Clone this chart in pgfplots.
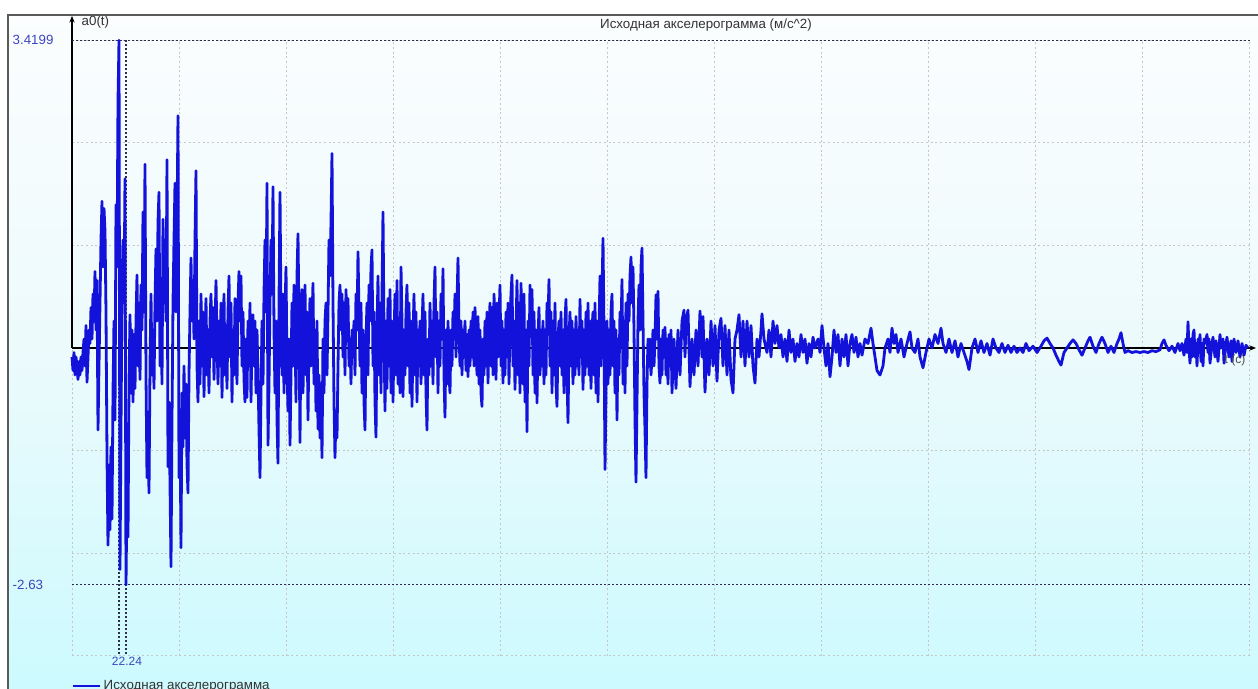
\documentclass[border=0pt]{standalone}
\usepackage{pgfplots}
\pgfplotsset{compat=1.18}
\usetikzlibrary{arrows.meta}
\usepackage{fontspec}
\setmainfont{Liberation Sans}
\definecolor{sigblue}{RGB}{18,18,218}
\definecolor{lblblue}{RGB}{60,70,190}
\definecolor{bgtop}{RGB}{251,253,254}
\definecolor{bgmid}{RGB}{236,250,252}
\definecolor{bgbot}{RGB}{204,250,254}
\definecolor{framec}{RGB}{90,90,90}
\definecolor{markc}{RGB}{45,45,80}
\begin{document}
\begin{tikzpicture}
\useasboundingbox (0,0) rectangle (943.5pt,516.75pt);
\fill[top color=bgtop, bottom color=bgbot, middle color=bgmid] (6pt,0) rectangle (943.5pt,505.5pt);
\begin{axis}[
  at={(54pt,24.9pt)}, anchor=south west,
  scale only axis, width=883.5pt, height=461.7pt,
  xmin=0, xmax=1178, ymin=-3.42, ymax=3.42,
  axis line style={draw=none},
  xtick={0,107,214,321,428,535,642,749,856,963,1070,1177},
  ytick={-3.42,-2.28,-1.14,0,1.14,2.28,3.42},
  xticklabel={\mbox{}}, yticklabel={\mbox{}},
  major tick length=0pt,
  grid=major,
  grid style={gray!45, line width=0.7pt, dash pattern=on 1.5pt off 2pt},
  clip=false,
  legend style={at={(0.0,-0.049)}, anchor=west, draw=none, fill=none, font=\fontsize{10}{11}\selectfont, text=black!80, inner sep=0pt},
  legend image code/.code={\draw[sigblue, line width=1.6pt] (0pt,0pt) -- (20pt,0pt);},
]
\draw[black, line width=2.2pt] (axis cs:0,0) -- (axis cs:1176,0);
\draw[black, line width=0.8pt, -{Stealth[length=5pt,width=4pt]}] (axis cs:1170,0) -- (axis cs:1184,0);
\draw[black, line width=1pt, -{Stealth[length=5pt,width=4pt]}] (axis cs:0,0) -- (axis cs:0,3.69);
\addplot[forget plot, markc, line width=1pt, dash pattern=on 1.5pt off 1.5pt] coordinates {(0,3.4199) (1178,3.4199)};
\addplot[forget plot, markc, line width=1pt, dash pattern=on 1.5pt off 1.5pt] coordinates {(0,-2.63) (1178,-2.63)};
\addplot[forget plot, markc, line width=1pt, dash pattern=on 1.5pt off 1.5pt] coordinates {(47,3.4199) (47,-3.41)};
\addplot[forget plot, markc, line width=1pt, dash pattern=on 1.5pt off 1.5pt] coordinates {(54,3.4199) (54,-3.41)};
\addplot[sigblue, line width=2.1pt, line join=round] coordinates {
(0,-0.1)(1,-0.25)(2,-0.05)(3,-0.3)(4,-0.1)(5,-0.2)(6,-0.35)(7,-0.15)(8,-0.3)(9,-0.1)(10,-0.25)(11,-0.05)(12,0.1)(13,-0.2)(14,0.25)(15,-0.38)(16,-0.1)(17,0.2)(18,0.05)(19,0.45)(20,0.1)(21,0.6)(22,0.3)(23,0.85)(24,0.2)(25,0.75)(26,-0.91)(27,-0.2)(28,0.5)(29,1.2)(30,1.63)(31,0.9)(32,1.55)(33,1.3)(34,0.4)(35,-1.2)(36,-2.19)(37,-1.3)(38,-2.02)(39,-1.1)(40,-1.9)(41,-0.5)(42,0.3)(43,-0.8)(44,1.59)(45,0.9)(46,2.74)(47,3.4199)(48,-2.46)(49,-0.9)(50,0.6)(51,1.2)(52,0.5)(53,1.88)(54,-2.63)
(55,-1.6)(56,-2.1)(57,-0.4)(58,0.37)(59,-0.5)(60,0.2)(61,-0.6)(62,0.15)(63,-0.45)(64,0.3)(65,0.81)(66,-0.2)(67,0.5)(68,-0.35)(69,0.7)(70,0.2)(71,1.51)(72,0.4)(73,2.04)(74,-0.3)(75,-1.44)(76,-0.9)(77,-1.61)(78,-0.2)(79,0.6)(80,-0.3)(81,0.2)(82,-0.45)(83,0.5)(84,1.1)(85,0.3)(86,1.4)(87,1.73)(88,-0.2)(89,0.6)(90,-0.4)(91,1.43)(92,0.5)(93,1.2)(94,0.3)(95,2.09)(96,-1.32)(97,-0.6)(98,-1.5)(99,-2.43)(100,-0.8)(101,0.5)(102,1.2)(103,1.83)(104,0.4)(105,1.4)(106,2.58)(107,-1.44)(108,-0.8)(109,-2.22)(110,-0.5)(111,-1.1)(112,-0.2)(113,-1.0)(114,-0.4)(115,-1.3)(116,-1.61)(117,-0.3)(118,0.4)(119,1.0)(120,0.3)(121,0.75)(122,0.1)(123,1.2)(124,1.97)(125,-0.2)(126,-0.6)(127,0.3)(128,-0.4)
(129,0.6)(130,-0.2)(131,0.4)(132,-0.54)(133,0.1)(134,0.55)(135,-0.3)(136,0.2)(137,-0.5)(138,0.3)(139,0.6)(140,-0.1)(141,0.45)(142,-0.35)(143,0.2)(144,0.75)(145,0.1)(146,-0.4)(147,0.3)(148,-0.2)(149,0.5)(150,-0.55)(151,0.1)(152,0.6)(153,-0.3)(154,0.25)(155,-0.45)(156,0.4)(157,0.8)(158,-0.1)(159,0.5)(160,-0.6)(161,0.2)(162,-0.3)(163,0.55)(164,0.1)(165,-0.4)(166,0.5)(167,0.85)(168,0.3)(169,0.8)(170,-0.2)(171,0.4)(172,-0.35)(173,-0.6)(174,0.1)(175,-0.55)(176,0.3)(177,-0.2)(178,0.5)(179,-0.6)(180,0.1)(181,0.37)(182,-0.2)(183,0.3)(184,-0.5)(185,0.2)(186,-0.3)(187,-0.9)(188,-1.44)(189,-0.5)(190,0.3)(191,-0.4)(192,0.6)(193,1.2)(194,0.4)(195,1.83)(196,-1.08)(197,-0.4)(198,0.5)(199,1.2)(200,0.6)(201,1.79)(202,0.2)(203,-0.5)(204,0.3)(205,-0.8)(206,-1.28)(207,0.5)(208,1.73)(209,0.4)(210,-0.3)(211,0.6)(212,-0.5)(213,0.4)(214,0.9)(215,-0.2)(216,-0.7)(217,0.1)(218,-1.08)(219,-0.3)(220,0.5)(221,-0.2)(222,0.7)(223,0.2)(224,-0.6)(225,0.8)(226,1.27)(227,0.3)(228,-1.05)
(229,0.3)(230,0.65)(231,-0.5)(232,0.2)(233,0.7)(234,-0.3)(235,0.4)(236,-0.8)(237,0.1)(238,0.55)(239,-0.2)(240,0.3)(241,0.72)(242,-0.4)(243,0.2)(244,-0.7)(245,0.3)(246,-0.9)(247,-0.3)(248,-1.0)(249,-0.4)(250,-1.22)(251,0.1)(252,-0.5)(253,0.3)(254,0.5)(255,-0.3)(256,0.4)(257,1.2)(258,0.8)(259,1.4)(260,2.16)(261,0.5)(262,-0.6)(263,-1.22)(264,-0.7)(265,-1.0)(266,-0.2)(267,0.5)(268,0.7)(269,0.2)(270,0.6)(271,-0.1)(272,0.5)(273,-0.3)(274,0.65)(275,0.1)(276,0.55)(277,-0.2)(278,0.1)(279,-0.4)(280,0.2)(281,-0.1)(282,0.3)(283,-0.3)(284,0.6)(285,0.2)(286,1.07)(287,0.4)(288,-0.2)(289,0.5)(290,-0.5)(291,0.2)(292,-0.6)(293,-0.91)(294,0.1)(295,0.5)(296,-0.3)(297,0.7)(298,0.3)(299,0.9)(300,1.09)(301,-0.2)(302,0.4)(303,-0.6)(304,-0.99)(305,0.2)(306,0.8)(307,-0.3)(308,0.5)(309,-0.5)(310,0.6)(311,1.51)(312,0.2)(313,-0.7)(314,0.3)(315,-0.45)(316,0.55)(317,-0.2)(318,0.65)(319,-0.5)(320,0.3)(321,-0.6)(322,0.1)(323,0.6)(324,-0.3)(325,0.75)(326,-0.4)(327,0.2)(328,-0.5)(329,0.9)(330,0.3)(331,-0.54)(332,0.2)
(333,-0.3)(334,0.4)(335,0.7)(336,-0.2)(337,0.5)(338,-0.5)(339,0.3)(340,-0.65)(341,0.1)(342,0.6)(343,-0.3)(344,0.4)(345,-0.6)(346,0.2)(347,-0.2)(348,0.3)(349,-0.4)(350,0.2)(351,0.6)(352,-0.3)(353,0.4)(354,-0.5)(355,-0.91)(356,0.1)(357,-0.3)(358,0.5)(359,-0.2)(360,0.3)(361,-0.4)(362,0.5)(363,0.9)(364,-0.1)(365,0.4)(366,-0.5)(367,0.3)(368,-0.2)(369,0.6)(370,0.1)(371,0.88)(372,-0.3)(373,-0.77)(374,0.2)(375,-0.4)(376,0.3)(377,-0.3)(378,-0.5)(379,0.2)(380,-0.2)(381,0.4)(382,0.1)(383,0.6)(384,-0.1)(385,0.5)(386,1.0)(387,0.2)(388,-0.2)(389,0.3)(390,-0.3)(391,0.2)(392,-0.1)(393,0.3)(394,-0.25)(395,0.15)(396,-0.32)(397,0.2)(398,-0.2)(399,0.3)(400,-0.1)(401,0.4)(402,-0.2)(403,0.45)(404,0.1)(405,-0.3)(406,0.35)(407,-0.4)(408,0.2)(409,-0.5)(410,-0.65)(411,0.1)(412,-0.3)(413,0.3)(414,-0.2)(415,0.4)(416,-0.39)(417,0.2)(418,0.5)(419,-0.2)(420,0.45)(421,-0.3)(422,0.6)(423,0.2)(424,-0.35)(425,0.5)(426,-0.1)(427,0.3)(428,0.7)(429,-0.2)(430,0.3)
(431,-0.39)(432,0.2)(433,-0.3)(434,0.4)(435,-0.1)(436,0.5)(437,-0.4)(438,0.3)(439,0.6)(440,0.81)(441,-0.2)(442,0.3)(443,-0.46)(444,0.2)(445,0.75)(446,-0.3)(447,0.5)(448,-0.5)(449,0.72)(450,0.1)(451,-0.4)(452,0.6)(453,-0.6)(454,0.2)(455,-0.93)(456,0.3)(457,-0.2)(458,0.7)(459,0.2)(460,0.65)(461,-0.3)(462,0.4)(463,-0.5)(464,0.2)(465,-0.61)(466,0.1)(467,0.45)(468,-0.3)(469,0.2)(470,-0.2)(471,0.3)(472,-0.4)(473,0.2)(474,-0.3)(475,0.5)(476,0.3)(477,0.76)(478,-0.2)(479,0.4)(480,-0.5)(481,0.3)(482,-0.3)(483,0.5)(484,-0.4)(485,-0.65)(486,0.1)(487,0.3)(488,-0.2)(489,0.4)(490,-0.3)(491,0.2)(492,-0.5)(493,0.3)(494,0.54)(495,-0.3)(496,-0.83)(497,0.1)(498,0.4)(499,-0.2)(500,0.3)(501,-0.4)(502,0.2)(503,-0.3)(504,0.35)(505,-0.2)(506,0.2)(507,-0.3)(508,0.54)(509,-0.1)(510,0.3)(511,-0.46)(512,0.2)(513,-0.3)(514,0.4)(515,-0.2)(516,0.5)(517,-0.3)(518,0.3)(519,-0.45)(520,0.2)(521,0.4)(522,-0.3)(523,0.5)(524,-0.5)(525,0.3)(526,-0.6)(527,0.2)(528,0.8)(529,-0.2)(530,0.6)
(531,1.22)(532,0.2)(533,-1.35)(534,-0.5)(535,0.3)(536,-0.4)(537,0.2)(538,-0.3)(539,0.4)(540,0.6)(541,-0.2)(542,0.3)(543,-0.5)(544,0.2)(545,-0.8)(546,0.1)(547,-0.3)(548,0.4)(549,0.2)(550,0.76)(551,-0.4)(552,0.3)(553,-0.5)(554,0.5)(555,-0.2)(556,0.6)(557,0.3)(558,0.8)(559,1.01)(560,0.5)(561,0.9)(562,0.2)(563,-0.8)(564,-1.49)(565,-0.6)(566,0.3)(567,0.7)(568,0.2)(569,0.9)(570,1.11)(571,0.3)(572,-0.5)(573,-0.9)(574,-1.44)(575,-0.4)(576,0.1)(577,-0.2)(578,0.1)(579,-0.3)(580,-0.1)(581,0.2)(582,-0.2)(583,0.1)(584,0.59)(585,0.1)(586,0.63)(587,-0.2)(588,-0.39)(589,0.1)(590,-0.3)(591,0.2)(592,-0.1)(593,0.23)(594,-0.3)(595,0.1)(596,-0.4)(597,0.15)(598,-0.2)(599,0.2)(600,-0.5)
(602,0.1)(604,-0.45)(606,0.2)(608,-0.3)(610,0.3)(612,0.42)(613,-0.1)(614,0.3)(616,0.42)(618,-0.43)(620,0.1)(622,-0.3)(624,0.2)(626,-0.2)(628,0.41)(630,-0.1)(631,0.35)(633,-0.49)(635,0.1)(637,-0.3)(639,0.3)(641,-0.2)(643,0.25)(645,-0.37)(647,0.2)(649,0.33)(651,-0.2)(653,0.25)(655,-0.3)(657,0.2)(659,-0.35)(661,-0.5)(663,0.1)(665,0.2)(667,0.37)(669,-0.1)(671,0.3)(673,-0.2)(675,0.3)(677,-0.1)(679,0.25)(681,-0.2)(683,-0.39)(685,0.1)(687,-0.1)(689,0.2)(690,0.38)(692,0.1)(695,-0.05)(697,0.2)(699,-0.1)(701,0.3)(703,0.05)(705,0.25)(707,0)(709,0.15)(711,-0.1)(713,0.1)(715,-0.15)(717,0.2)(719,-0.05)
(721,0.1)(723,-0.15)(725,0.05)(727,-0.1)(729,0.15)(731,-0.05)(733,0.1)(735,-0.17)(737,0.05)(739,-0.1)(741,0.12)(743,0)(746,0.1)(748,-0.05)(750,0.25)(752,0)(754,-0.2)(756,0.05)(758,-0.32)(760,-0.1)(762,0.2)(764,-0.05)(766,0.15)(768,-0.2)(770,0.1)(772,-0.1)(774,0.15)(776,-0.2)(778,0.05)(780,0.15)(782,-0.05)(784,0.12)(786,-0.1)(788,0.05)(790,-0.08)(793,0.1)(796,0.05)(799,0.22)(801,0.05)(803,-0.1)(805,-0.25)(808,-0.3)(811,-0.2)(813,0)(816,0.1)(818,-0.05)(820,0.22)(822,0.05)(824,0.15)(826,-0.05)(829,0.1)(832,-0.1)(835,0.05)(838,0.18)(840,0)(843,-0.05)(846,0.1)(848,-0.1)(851,-0.22)(854,-0.05)(857,0.1)(860,0)(863,0.15)(866,0.05)(869,0.22)(871,0.05)(874,-0.05)(877,0.1)(880,-0.05)(883,0.08)(886,-0.1)(889,0.05)(892,-0.05)(895,-0.15)(897,-0.24)(900,0)
(903,0.1)(906,-0.05)(909,0.08)(912,-0.05)(915,0.05)(918,-0.08)(921,0.1)(924,0)(927,-0.05)(930,0.05)(933,-0.05)(936,0.03)(939,-0.05)(942,0.02)(945,-0.05)(948,0)(951,-0.05)(954,0.05)(957,-0.03)(961,0.02)(965,-0.05)(969,0.02)(972,0.08)(975,0.11)(978,0.05)(981,0)(984,-0.08)(987,-0.15)(989,-0.19)(992,-0.05)(995,0)(998,0.05)(1001,0.09)(1004,0.05)(1007,-0.02)(1010,-0.08)(1013,0)(1016,0.08)(1018,0.12)(1021,0.02)(1024,-0.05)(1027,0.05)(1030,0.12)(1033,0.05)(1036,-0.05)(1039,0.02)(1042,-0.05)(1045,0.05)(1047,0.1)(1049,0.17)(1051,0.05)(1053,-0.05)(1056,-0.03)(1060,-0.05)(1064,-0.04)(1068,-0.05)(1072,-0.04)(1076,-0.05)(1080,-0.03)(1084,-0.04)(1088,-0.02)(1090,0.05)(1092,0.09)(1094,0.03)(1097,-0.03)(1100,0.02)(1103,-0.05)(1106,0.05)(1108,-0.03)(1110,0.05)(1112,-0.08)(1114,0.1)(1115,-0.05)(1116,0.29)(1117,0)(1118,-0.17)(1119,0.1)(1120,-0.1)(1121,0.15)(1122,0.2)(1123,-0.1)(1124,0.05)(1125,-0.2)(1126,0.1)(1127,-0.05)(1128,0.15)(1129,-0.15)(1130,0.05)(1131,-0.2)(1132,0.1)(1133,0.05)(1135,0.15)(1136,-0.05)(1137,0.1)(1138,-0.17)(1140,0.05)(1141,0.12)(1143,-0.1)(1144,0.08)(1146,-0.15)(1148,0.15)(1149,0)(1151,0.1)(1152,-0.17)(1154,0.05)(1155,0.12)(1157,-0.1)(1159,0.08)(1160,-0.15)(1162,0.1)(1164,-0.05)(1166,0.08)(1168,-0.1)(1170,0.05)(1172,-0.08)(1174,0.03)(1176,0)
};
\addlegendentry{Исходная акселерограмма}
\node[anchor=west, text=lblblue, font=\fontsize{10}{11}\selectfont] at (axis cs:-64,3.4199) {3.4199};
\node[anchor=west, text=lblblue, font=\fontsize{10}{11}\selectfont] at (axis cs:-64,-2.63) {-2.63};
\node[text=lblblue, font=\fontsize{9}{10}\selectfont] at (axis cs:55,-3.478) {22.24};
\node[anchor=west, text=black!80, font=\fontsize{10}{11}\selectfont] at (axis cs:5,3.62) {a0(t)};
\node[text=black!80, font=\fontsize{10}{11}\selectfont] at (axis cs:634,3.59) {Исходная акселерограмма (м/с\textasciicircum 2)};
\node[text=black!70, font=\fontsize{9}{10}\selectfont] at (axis cs:1163,-0.14) {t (c)};
\end{axis}
\draw[framec, line width=1.5pt] (6pt,0) -- (6pt,505.5pt) -- (943.5pt,505.5pt);
\end{tikzpicture}
\end{document}
